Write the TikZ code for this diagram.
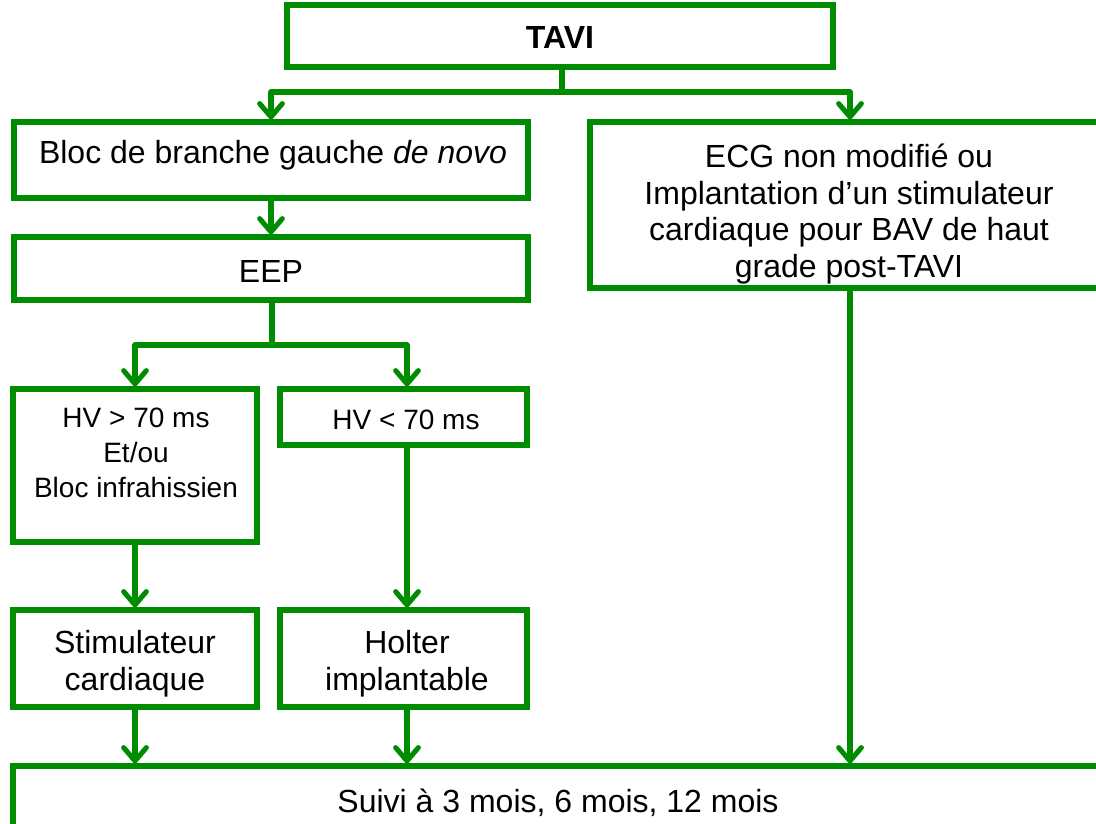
\documentclass[tikz,border=0pt]{standalone}
\usepackage{fontspec}
\setmainfont{Liberation Sans}
\usetikzlibrary{arrows.meta,shadows}
\definecolor{grn}{RGB}{0,140,0}
\tikzset{
  box/.style={draw=grn, line width=3.8pt, fill=white, rectangle, inner sep=0pt,
    drop shadow={opacity=0.3, shadow xshift=2.5pt, shadow yshift=-2.5pt, fill=black!60}},
  txt/.style={align=center, font=\fontsize{24}{26}\selectfont, inner sep=0pt},
  conn/.style={draw=grn, line width=3.8pt, line join=round},
  arr/.style={conn, -{Straight Barb[length=10pt,width=17pt,line width=3.8pt,line cap=round,line join=round]}}
}
\begin{document}
\begin{tikzpicture}[x=0.75pt,y=-0.75pt]
\useasboundingbox (0,0) rectangle (1096,824);
% boxes
\node[box, minimum width=546*0.75pt, minimum height=62*0.75pt] (tavi) at (560,36) {};
\node[txt, font=\fontsize{24}{26}\selectfont\bfseries] (taviT) at (560,37) {TAVI};
\node[box, minimum width=514*0.75pt, minimum height=76*0.75pt] (bloc) at (271,160) {};
\node[txt] (blocT) at (273,155) {Bloc de branche gauche \textit{de novo}};
\node[box, minimum width=520*0.75pt, minimum height=166*0.75pt] (ecg) at (850,205) {};
\node[txt, font=\fontsize{24}{27.5}\selectfont] (ecgT) at (849,214) {ECG non modifié ou\\Implantation d’un stimulateur\\cardiaque pour BAV de haut\\grade post-TAVI};
\node[box, minimum width=514*0.75pt, minimum height=63*0.75pt] (eep) at (271,268.5) {};
\node[txt] (eepT) at (271,271) {EEP};
\node[box, minimum width=244*0.75pt, minimum height=153*0.75pt] (hva) at (135,465.5) {};
\node[txt, font=\fontsize{21}{26}\selectfont] (hvaT) at (136,453) {HV > 70 ms\\Et/ou\\Bloc infrahissien};
\node[box, minimum width=247*0.75pt, minimum height=56*0.75pt] (hvb) at (403.5,417) {};
\node[txt, font=\fontsize{21}{26}\selectfont] (hvbT) at (406,420) {HV < 70 ms};
\node[box, minimum width=244*0.75pt, minimum height=97*0.75pt] (stim) at (135,658.5) {};
\node[txt, font=\fontsize{24}{27.5}\selectfont] (stimT) at (135,664) {Stimulateur\\cardiaque};
\node[box, minimum width=247*0.75pt, minimum height=97*0.75pt] (holt) at (403.5,658.5) {};
\node[txt, font=\fontsize{24}{27.5}\selectfont] (holtT) at (407,664) {Holter\\implantable};
\node[box, minimum width=1097*0.75pt, minimum height=90*0.75pt] (suivi) at (561.5,811) {};
\node[txt] (suiviT) at (558,803) {Suivi à 3 mois, 6 mois, 12 mois};
% junctions
\coordinate (j1) at (562,92);
\coordinate (j2) at (272,345);
% connectors
\draw[conn] (tavi.south -| j1) -- (j1);
\draw[arr] (j1) -| (bloc.north);
\draw[arr] (j1) -| (ecg.north);
\draw[arr] (bloc.south) -- (eep.north);
\draw[conn] (eep.south -| j2) -- (j2);
\draw[arr] (j2) -| (hva.north);
\draw[arr] (j2) -| ([xshift=3.5*0.75pt]hvb.north);
\draw[arr] (hva.south) -- (stim.north);
\draw[arr] ([xshift=3.5*0.75pt]hvb.south) -- ([xshift=3.5*0.75pt]holt.north);
\draw[arr] (stim.south) -- (stim.south |- suivi.north);
\draw[arr] ([xshift=3.5*0.75pt]holt.south) -- ([xshift=3.5*0.75pt]holt.south |- suivi.north);
\draw[arr] (ecg.south) -- (ecg.south |- suivi.north);
\end{tikzpicture}
\end{document}
